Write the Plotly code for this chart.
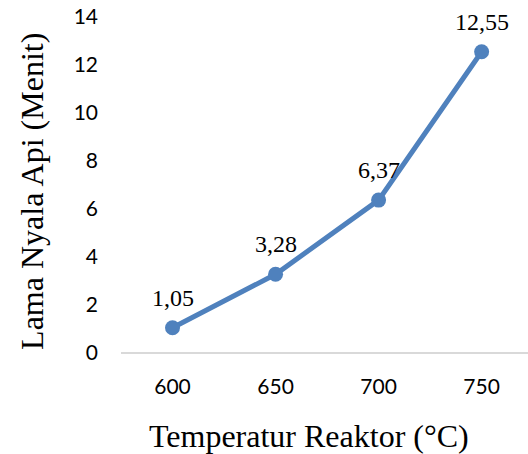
import plotly.graph_objects as go

categories = ["600", "650", "700", "750"]
values = [1.05, 3.28, 6.37, 12.55]
labels = ["1,05", "3,28", "6,37", "12,55"]
y_ticks = [0, 2, 4, 6, 8, 10, 12, 14]
x_title = "Temperatur Reaktor (°C)"
y_title = "Lama Nyala Api (Menit)"

fig = go.Figure()
fig.add_trace(go.Scatter(
    x=list(range(len(categories))), y=values, mode="lines+markers",
    line=dict(color="#4F81BD", width=5),
    marker=dict(color="#4F81BD", size=15),
    hoverinfo="skip", cliponaxis=False,
))
for i, (v, t) in enumerate(zip(values, labels)):
    fig.add_annotation(x=i, y=v, text=t, showarrow=False, yshift=30,
                       font=dict(family="Liberation Serif", size=24, color="#000"))

title_font = dict(family="Liberation Serif", size=32, color="#000")
fig.add_annotation(text=x_title, xref="paper", yref="paper", x=0.462, y=-0.247,
                   xanchor="center", yanchor="middle", showarrow=False, font=title_font)
fig.add_annotation(text=y_title, xref="paper", yref="paper", x=-0.219, y=0.482,
                   xanchor="center", yanchor="middle", textangle=-90,
                   showarrow=False, font=title_font)

fig.update_layout(
    width=528, height=454,
    margin=dict(l=121, r=0, t=17, b=101),
    plot_bgcolor="white", paper_bgcolor="white",
    showlegend=False,
    xaxis=dict(
        range=[-0.5, 3.45], tickmode="array",
        tickvals=list(range(len(categories))), ticktext=categories,
        showgrid=False, zeroline=False, showline=False, ticks="",
        tickfont=dict(family="Lato", size=21, color="#000"),
        ticklabelstandoff=19,
    ),
    yaxis=dict(
        range=[0, 14], tickmode="array", tickvals=y_ticks,
        ticktext=[str(v) for v in y_ticks],
        showgrid=False, zeroline=True, zerolinecolor="#D9D9D9", zerolinewidth=2,
        showline=False, ticks="",
        tickfont=dict(family="Lato", size=21, color="#000"),
        ticklabelstandoff=22,
    ),
)
fig.write_html("out.html")
